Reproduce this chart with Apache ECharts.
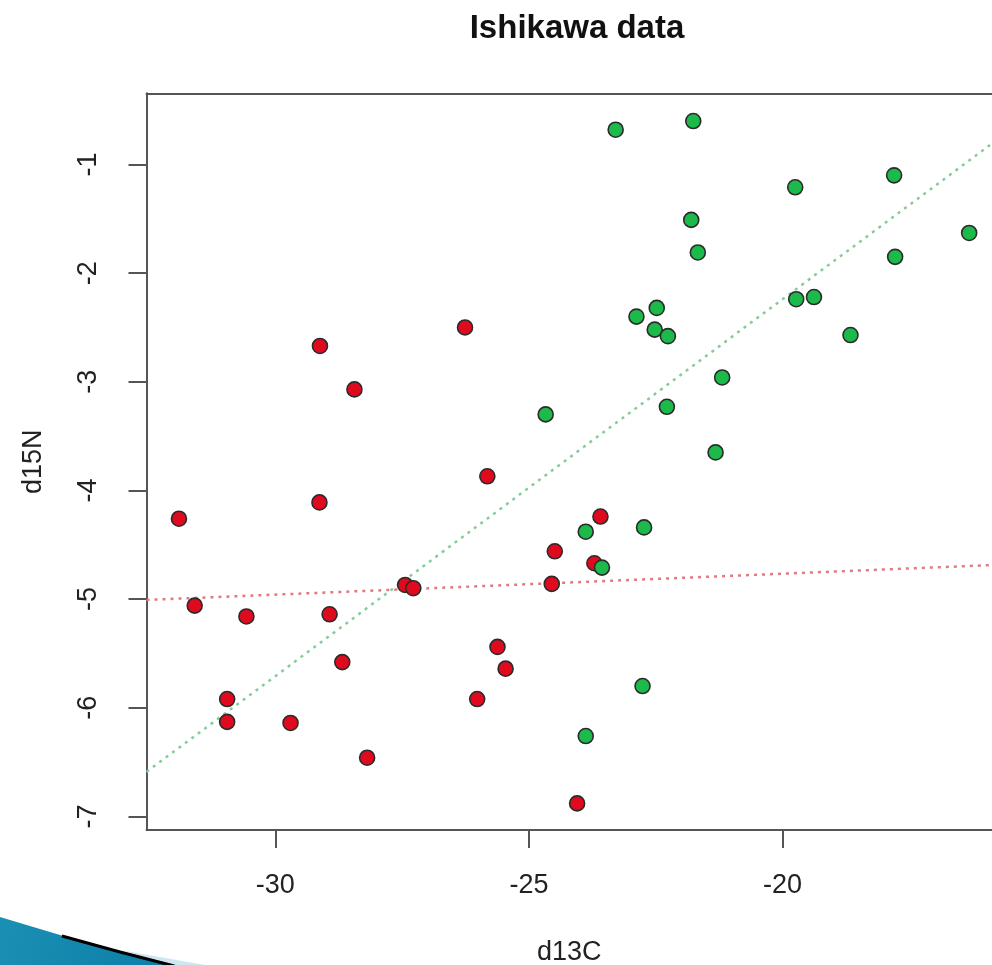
<!DOCTYPE html>
<html>
<head>
<meta charset="utf-8">
<title>Ishikawa data</title>
<script src="https://cdn.jsdelivr.net/npm/echarts@6/dist/echarts.min.js"></script>
<style>
html, body { margin: 0; padding: 0; background: #ffffff; }
#ishikawa_chart { width: 992px; height: 965px; }
</style>
</head>
<body>
<div id="ishikawa_chart"></div>
<script>
// 红色组 (d13C, d15N)
var redX = [ -31.90, -31.59, -30.95, -30.95, -30.57, -29.70, -29.12, -29.13,
		-28.93, -28.68, -28.44, -28.19, -27.44, -27.28, -26.26, -26.02, -25.82,
		-25.62, -25.46, -24.55, -24.49, -24.05, -23.71, -23.59 ];
var redY = [ -4.26, -5.06, -5.92, -6.13, -5.16, -6.14, -2.67, -4.11, -5.14,
		-5.58, -3.07, -6.46, -4.87, -4.90, -2.50, -5.92, -3.87, -5.44, -5.64,
		-4.86, -4.56, -6.88, -4.67, -4.24 ];

// 绿色组
var greenX = [ -23.29, -21.76, -19.75, -17.80, -21.80, -21.67, -16.32, -17.78,
		-19.73, -19.38, -22.48, -22.88, -22.52, -22.26, -18.66, -21.19, -22.28,
		-21.32, -24.67, -23.88, -22.73, -23.56, -22.76, -23.88 ];
var greenY = [ -0.68, -0.60, -1.21, -1.10, -1.51, -1.81, -1.63, -1.85, -2.24,
		-2.22, -2.32, -2.40, -2.52, -2.58, -2.57, -2.96, -3.23, -3.65, -3.30,
		-4.38, -4.34, -4.71, -5.80, -6.26 ];

// 回归线 (截距, 斜率)
var redFit = [ -4.381, 0.01926 ];
var greenFit = [ 4.698, 0.3469 ];

// 坐标轴 (右边框在图片外面, 所以 xMax 取画布边缘的值)
var xTicks = [ -30, -25, -20 ];
var yTicks = [ -1, -2, -3, -4, -5, -6, -7 ];
var xMin = -32.54, xMax = -15.87;
var yMin = -7.125, yMax = -0.345;

function pairs(xs, ys) {
	var out = new Array();
	for (var i = 0; i < xs.length; i++) {
		out.push([ xs[i], ys[i] ]);
	}
	return out;
}

function fitLine(fit) {
	return [ [ xMin, fit[0] + fit[1] * xMin ], [ xMax, fit[0] + fit[1] * xMax ] ];
}

function set_ishikawa_chart() {
	var chart = echarts.init(document.getElementById('ishikawa_chart'));
	var font = 'Liberation Sans, Arial, sans-serif';
	var boxLine = {
		show : true,
		onZero : false,
		lineStyle : {
			color : '#555555',
			width : 2
		}
	};
	var tickStyle = {
		color : '#555555',
		width : 2
	};
	var option = {
		backgroundColor : '#ffffff',
		animation : false,
		title : {
			text : 'Ishikawa data',
			left : 572,
			top : 7,
			textAlign : 'center',
			textStyle : {
				fontFamily : font,
				fontSize : 33,
				fontWeight : 'bold',
				color : '#111111'
			}
		},
		grid : {
			left : 146.5,
			top : 93.3,
			bottom : 135,
			right : 0,
			show : false,
			outerBoundsMode : 'none'
		},
		xAxis : [ {
			type : 'value',
			position : 'bottom',
			min : xMin,
			max : xMax,
			name : 'd13C',
			nameLocation : 'middle',
			nameGap : 109,
			nameTextStyle : {
				fontFamily : font,
				fontSize : 27,
				color : '#222222'
			},
			axisLine : boxLine,
			axisTick : {
				show : true,
				length : 18,
				customValues : xTicks,
				lineStyle : tickStyle
			},
			axisLabel : {
				customValues : xTicks,
				margin : 42,
				fontFamily : font,
				fontSize : 27,
				color : '#222222'
			},
			splitLine : {
				show : false
			}
		}, {
			// 上边框
			type : 'value',
			position : 'top',
			min : xMin,
			max : xMax,
			axisLine : boxLine,
			axisTick : {
				show : false
			},
			axisLabel : {
				show : false
			},
			splitLine : {
				show : false
			}
		} ],
		yAxis : {
			type : 'value',
			min : yMin,
			max : yMax,
			name : 'd15N',
			nameLocation : 'middle',
			nameGap : 99,
			nameRotate : 90,
			nameTextStyle : {
				fontFamily : font,
				fontSize : 27,
				color : '#222222'
			},
			axisLine : boxLine,
			axisTick : {
				show : true,
				length : 18,
				customValues : yTicks,
				lineStyle : tickStyle
			},
			axisLabel : {
				customValues : yTicks,
				rotate : 90,
				margin : 44,
				fontFamily : font,
				fontSize : 27,
				color : '#222222'
			},
			splitLine : {
				show : false
			}
		},
		series : [ {
			name : 'red fit',
			type : 'line',
			data : fitLine(redFit),
			showSymbol : false,
			silent : true,
			z : 1,
			lineStyle : {
				color : '#dc7c86',
				width : 2.5,
				type : [ 3, 5 ]
			}
		}, {
			name : 'green fit',
			type : 'line',
			data : fitLine(greenFit),
			showSymbol : false,
			silent : true,
			z : 1,
			lineStyle : {
				color : '#86cc99',
				width : 2.5,
				type : [ 3, 5 ]
			}
		}, {
			name : 'red',
			type : 'scatter',
			data : pairs(redX, redY),
			symbolSize : 15,
			z : 3,
			itemStyle : {
				color : '#e00a1e',
				opacity : 1,
				borderColor : '#2b2b2b',
				borderWidth : 1.6
			}
		}, {
			name : 'green',
			type : 'scatter',
			data : pairs(greenX, greenY),
			symbolSize : 15,
			z : 3,
			itemStyle : {
				color : '#1cb94b',
				opacity : 1,
				borderColor : '#2b2b2b',
				borderWidth : 1.6
			}
		} ],
		// 幻灯片左下角的装饰
		graphic : [ {
			type : 'polygon',
			shape : {
				points : [ [ 0, 917 ], [ 60, 935 ], [ 120, 951 ], [ 176, 965 ], [ 0, 965 ] ]
			},
			style : {
				fill : new echarts.graphic.LinearGradient(0, 0, 1, 1, [ {
					offset : 0,
					color : '#1c8fb4'
				}, {
					offset : 1,
					color : '#0b7ea8'
				} ])
			},
			z : 100
		}, {
			type : 'polygon',
			shape : {
				points : [ [ 120, 950 ], [ 205, 965 ], [ 172, 965 ] ]
			},
			style : {
				fill : '#cfe6f1'
			},
			z : 99
		}, {
			type : 'polyline',
			shape : {
				points : [ [ 62, 936 ], [ 120, 952 ], [ 174, 966 ] ]
			},
			style : {
				stroke : '#000000',
				lineWidth : 3
			},
			z : 101
		} ]
	};
	chart.setOption(option);
}

set_ishikawa_chart();
</script>
</body>
</html>
